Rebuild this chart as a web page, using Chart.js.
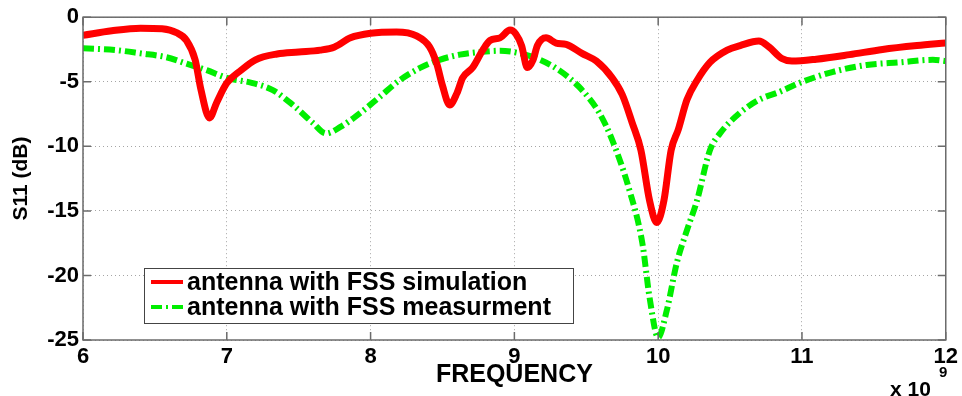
<!DOCTYPE html>
<html>
<head>
<meta charset="utf-8">
<script src="https://cdn.jsdelivr.net/npm/chart.js@4.4.0/dist/chart.umd.min.js"></script>
<style>
    body { margin: 0; background: #fff; }
    #wrap { width: 962px; height: 396px; }
</style>
</head>
<body>
<div id="wrap"><canvas id="myChart" width="962" height="396"></canvas></div>
<script>
// frequency in GHz (axis shows x 10^9)
const freqSim = [6.0, 6.2, 6.4, 6.55, 6.65, 6.72, 6.78, 6.82, 6.88, 6.93, 7.0, 7.1, 7.2, 7.35, 7.5, 7.65, 7.75, 7.86, 8.0, 8.18,
    8.32, 8.41, 8.46, 8.5, 8.55, 8.6, 8.64, 8.71, 8.78, 8.83, 8.9, 8.97, 9.01, 9.05, 9.09, 9.13, 9.16, 9.22, 9.29, 9.36,
    9.47, 9.57, 9.68, 9.75, 9.82, 9.88, 9.94, 9.99, 10.04, 10.09, 10.14, 10.2, 10.27, 10.36, 10.48, 10.57, 10.7, 10.77, 10.86, 10.93,
    11.1, 11.33, 11.56, 11.8, 12.0];
const s11Sim = [-1.4, -1.05, -0.85, -0.9, -1.2, -1.8, -3.3, -5.6, -7.8, -6.6, -5.1, -4.1, -3.3, -2.85, -2.7, -2.55, -2.3, -1.6, -1.25, -1.15,
    -1.45, -2.3, -3.6, -5.3, -6.8, -5.9, -4.7, -3.9, -2.55, -1.8, -1.6, -1.0, -1.3, -2.2, -3.9, -3.3, -2.2, -1.6, -2.0, -2.1,
    -2.8, -3.4, -4.7, -6.0, -8.2, -10.3, -14.2, -15.9, -14.2, -10.3, -8.7, -6.4, -4.9, -3.5, -2.55, -2.2, -1.85, -2.3, -3.2, -3.4,
    -3.25, -2.9, -2.5, -2.2, -2.0];

const freqMeas = [6.0, 6.23, 6.4, 6.58, 6.72, 6.86, 7.0, 7.18, 7.32, 7.46, 7.6, 7.69, 7.79, 7.93, 8.06, 8.2, 8.34, 8.48, 8.62, 8.76,
    8.9, 9.04, 9.18, 9.31, 9.45, 9.59, 9.68, 9.8, 9.89, 9.94, 10.0, 10.06, 10.13, 10.2, 10.27, 10.36, 10.43, 10.57, 10.7, 10.84,
    10.98, 11.21, 11.45, 11.68, 11.91, 12.0];
const s11Meas = [-2.4, -2.55, -2.8, -3.1, -3.6, -4.1, -4.7, -5.1, -5.65, -6.8, -8.2, -9.0, -8.5, -7.4, -6.2, -4.9, -3.95, -3.3, -2.9, -2.7,
    -2.6, -2.8, -3.3, -4.1, -5.4, -7.4, -9.5, -13.4, -17.5, -21.7, -24.8, -22.7, -19.0, -16.5, -14.2, -10.3, -9.0, -7.4, -6.4, -5.8,
    -5.1, -4.25, -3.7, -3.5, -3.3, -3.4];

const xTicks = [6, 7, 8, 9, 10, 11, 12];
const yTicks = [0, -5, -10, -15, -20, -25];
const seriesNames = ["antenna with FSS simulation", "antenna with FSS measurment"];

const FONT = "'Liberation Sans', Arial, sans-serif";
const greenDash = [11, 4, 2, 4];

function toPoints(xs, ys) {
    return xs.map((x, i) => ({ x: x, y: ys[i] }));
}

// box round the plot with small inward ticks, like matlab
const framePlugin = {
    id: 'frame',
    afterDatasetsDraw(chart) {
        const ctx = chart.ctx;
        const a = chart.chartArea;
        const xs = chart.scales.x, ys = chart.scales.y;
        ctx.save();
        ctx.strokeStyle = '#6b6b6b';
        ctx.lineWidth = 1.5;
        ctx.strokeRect(a.left, a.top, a.right - a.left, a.bottom - a.top);
        ctx.beginPath();
        xTicks.forEach(v => {
            const px = xs.getPixelForValue(v);
            ctx.moveTo(px, a.bottom); ctx.lineTo(px, a.bottom - 8);
            ctx.moveTo(px, a.top); ctx.lineTo(px, a.top + 8);
        });
        yTicks.forEach(v => {
            const py = ys.getPixelForValue(v);
            ctx.moveTo(a.left, py); ctx.lineTo(a.left + 8, py);
            ctx.moveTo(a.right, py); ctx.lineTo(a.right - 8, py);
        });
        ctx.stroke();
        ctx.restore();
    }
};

const legendPlugin = {
    id: 'boxLegend',
    afterDraw(chart) {
        const ctx = chart.ctx;
        const x0 = 144, y0 = 268, w = 429, h = 55;
        ctx.save();
        ctx.fillStyle = '#fff';
        ctx.fillRect(x0, y0, w, h);
        ctx.strokeStyle = '#444';
        ctx.lineWidth = 1;
        ctx.strokeRect(x0 + 0.5, y0 + 0.5, w, h);
        chart.data.datasets.forEach((ds, i) => {
            const ly = y0 + 14 + i * 25;
            ctx.strokeStyle = ds.borderColor;
            ctx.lineWidth = 4;
            ctx.setLineDash(ds.borderDash || []);
            ctx.beginPath();
            ctx.moveTo(x0 + 7, ly);
            ctx.lineTo(x0 + 39, ly);
            ctx.stroke();
            ctx.setLineDash([]);
            ctx.fillStyle = '#000';
            ctx.font = 'bold 25px ' + FONT;
            ctx.textBaseline = 'middle';
            ctx.fillText(ds.label, x0 + 43, ly + 1);
        });
        ctx.restore();
    }
};

const expPlugin = {
    id: 'expLabel',
    afterDraw(chart) {
        const ctx = chart.ctx;
        ctx.save();
        ctx.fillStyle = '#000';
        ctx.textBaseline = 'middle';
        ctx.font = 'bold 21px ' + FONT;
        ctx.fillText('x 10', 890, 390);
        ctx.font = 'bold 15px ' + FONT;
        ctx.fillText('9', 939, 373);
        ctx.restore();
    }
};

let chart = null;

document.addEventListener("DOMContentLoaded", function () {
    chart = new Chart("myChart", {
        type: "line",
        data: {
            datasets: [{
                label: seriesNames[0],
                data: toPoints(freqSim, s11Sim),
                borderColor: "#ff0000",
                borderWidth: 7,
                pointRadius: 0,
                cubicInterpolationMode: 'monotone',
                fill: false
            }, {
                label: seriesNames[1],
                data: toPoints(freqMeas, s11Meas),
                borderColor: "#00ee00",
                borderWidth: 6,
                borderDash: greenDash,
                pointRadius: 0,
                cubicInterpolationMode: 'monotone',
                fill: false
            }]
        },
        options: {
            responsive: false,
            animation: false,
            layout: { padding: { top: 17, right: 14, left: 0, bottom: 0 } },
            plugins: {
                legend: { display: false },
                tooltip: { enabled: false }
            },
            scales: {
                x: {
                    type: 'linear',
                    min: 6,
                    max: 12,
                    afterBuildTicks: s => { s.ticks = xTicks.map(v => ({ value: v })); },
                    afterFit: s => { s.height = 56; },
                    grid: { color: '#a5a5a5', lineWidth: 1, drawTicks: false },
                    border: { display: false, dash: [1, 3] },
                    ticks: {
                        color: '#000',
                        padding: 4,
                        maxRotation: 0,
                        font: { family: FONT, size: 22, weight: 'bold' }
                    },
                    title: {
                        display: true,
                        text: 'FREQUENCY',
                        color: '#000',
                        padding: { top: 0, bottom: 8 },
                        font: { family: FONT, size: 25, weight: 'bold', lineHeight: 1 }
                    }
                },
                y: {
                    min: -25,
                    max: 0,
                    afterBuildTicks: s => { s.ticks = yTicks.map(v => ({ value: v })); },
                    afterFit: s => { s.width = 83; },
                    grid: { color: '#a5a5a5', lineWidth: 1, drawTicks: false },
                    border: { display: false, dash: [1, 3] },
                    ticks: {
                        color: '#000',
                        padding: 4,
                        font: { family: FONT, size: 22, weight: 'bold' }
                    },
                    title: {
                        display: true,
                        text: 'S11 (dB)',
                        color: '#000',
                        padding: { top: 11, bottom: 0 },
                        font: { family: FONT, size: 21, weight: 'bold', lineHeight: 1 }
                    }
                }
            }
        },
        plugins: [framePlugin, legendPlugin, expPlugin]
    });
});
</script>
</body>
</html>
